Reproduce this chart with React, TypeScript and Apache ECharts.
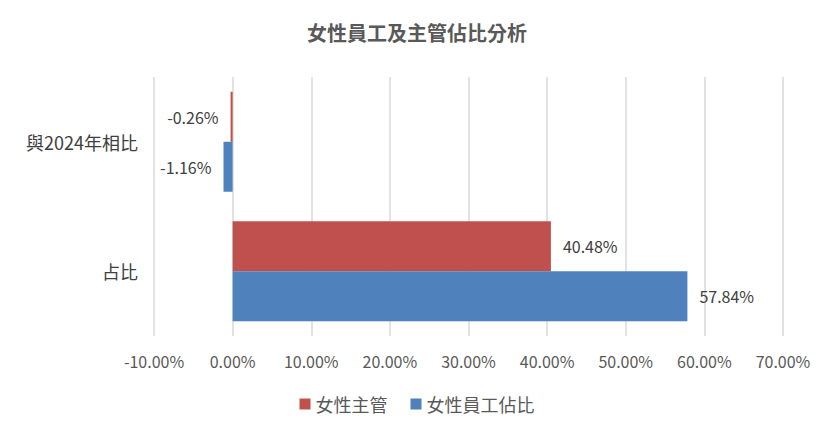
import React, { useEffect, useRef } from "react";
import * as echarts from "echarts";

const categories = ["占比", "與2024年相比"];
const seriesNames = ["女性主管", "女性員工佔比"];
const femaleManagerShare = [40.48, -0.26];
const femaleStaffShare = [57.84, -1.16];
const seriesColors = ["#C0504D", "#4F81BD"];
const title = "女性員工及主管佔比分析";

const FONT = "'Noto Sans CJK TC', 'Noto Sans', sans-serif";

export default function App() {
  const ref = useRef<HTMLDivElement>(null);
  useEffect(() => {
    document.body.style.margin = "0";
    const chart = echarts.init(ref.current!, null, { renderer: "svg" });
    const mkData = (vals: number[]) =>
      vals.map((v) => ({
        value: v,
        label: { position: v < 0 ? "left" : "right" },
      }));
    const allSeries = [femaleManagerShare, femaleStaffShare];
    chart.setOption({
      animation: false,
      textStyle: { fontFamily: FONT },
      title: {
        text: title,
        left: "center",
        top: 17,
        textStyle: { fontSize: 20, color: "#595959", fontWeight: "bold", fontFamily: FONT },
      },
      legend: {
        data: seriesNames,
        top: 390,
        left: "center",
        itemWidth: 11,
        itemHeight: 11,
        itemGap: 23,
        icon: "rect",
        textStyle: { fontSize: 18, color: "#595959", fontFamily: FONT },
      },
      grid: { left: 154, right: 51, top: 77, bottom: 98, containLabel: false },
      xAxis: {
        type: "value",
        min: -10,
        max: 70,
        interval: 10,
        axisLine: { show: false },
        axisTick: { show: false },
        splitLine: { show: true, lineStyle: { color: "#d9d9d9", width: 1.5 } },
        axisLabel: {
          formatter: (v: number) => v.toFixed(2) + "%",
          fontSize: 16,
          color: "#595959",
          margin: 17,
          fontFamily: FONT,
        },
      },
      yAxis: {
        type: "category",
        data: categories,
        axisLine: { show: false },
        axisTick: { show: false },
        axisLabel: { fontSize: 18, color: "#404040", margin: 16, fontFamily: FONT },
      },
      series: seriesNames.map((name, i) => ({
        name,
        type: "bar",
        data: mkData(allSeries[i]),
        itemStyle: { color: seriesColors[i] },
        barCategoryGap: "22.8%",
        barGap: "0%",
        label: {
          show: true,
          distance: 12,
          fontSize: 16,
          color: "#404040",
          fontFamily: FONT,
          formatter: (p: any) => p.value.toFixed(2) + "%",
        },
      })),
    });
    return () => chart.dispose();
  }, []);
  return (
    <div
      ref={ref}
      style={{ position: "absolute", left: 0, top: 0, width: 834, height: 434, background: "#fff" }}
    />
  );
}
